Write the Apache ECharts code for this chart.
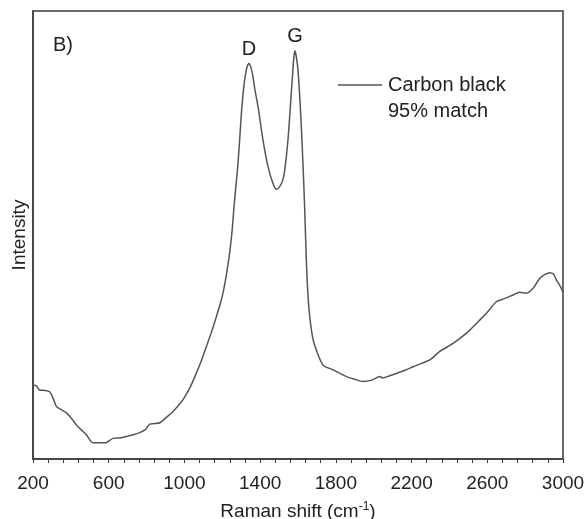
<!DOCTYPE html>
<html>
<head>
<meta charset="utf-8">
<script src="https://cdn.jsdelivr.net/npm/echarts@6/dist/echarts.min.js"></script>
<style>
  html, body { margin: 0; padding: 0; background: #fff; }
  #chart { width: 587px; height: 519px; }
</style>
</head>
<body>
<div id="chart"></div>
<script>
// Raman shift (cm-1) and relative intensity
const shift = [200, 218, 235, 262, 288, 306, 324, 350, 376, 405, 429, 455, 482, 517, 550, 588, 623, 660, 693, 730,
  764, 795, 817, 840, 870, 905, 940, 965, 992, 1030, 1063, 1090, 1116, 1145, 1169, 1188, 1204, 1222, 1239, 1252,
  1262, 1273, 1283, 1293, 1301, 1310, 1318, 1330, 1341, 1352, 1362, 1371, 1389, 1415, 1442, 1468, 1486, 1503,
  1520, 1530, 1547, 1561, 1570, 1578, 1584, 1591, 1600, 1614, 1626, 1635, 1644, 1652, 1662, 1678, 1697, 1732,
  1785, 1856, 1900, 1943, 1990, 2032, 2049, 2085, 2120, 2165, 2208, 2250, 2296, 2349, 2419, 2490, 2560, 2605,
  2648, 2690, 2736, 2770, 2806, 2842, 2877, 2905, 2930, 2950, 2965, 2985, 3000]
const intensity = [16.5, 16.3, 15.4, 15.3, 15.0, 13.6, 11.7, 11.0, 10.3, 9.0, 7.6, 6.5, 5.4, 3.6, 3.6, 3.7, 4.6, 4.7, 5.0, 5.4,
  5.9, 6.6, 7.8, 7.9, 8.1, 9.3, 10.6, 11.8, 13.2, 16.0, 19.2, 22.0, 25.1, 28.6, 31.8, 34.5, 37.1, 41.2, 46.0, 51.0,
  56.3, 61.4, 66.0, 72.0, 77.2, 81.5, 84.6, 87.4, 88.3, 87.3, 85.4, 82.8, 78.6, 71.2, 65.2, 61.5, 60.2, 60.8,
  62.3, 64.5, 71.2, 79.5, 85.0, 89.6, 91.1, 89.8, 86.8, 77.2, 66.1, 56.3, 44.5, 37.0, 31.8, 27.0, 24.3, 21.0,
  19.9, 18.4, 17.8, 17.3, 17.6, 18.4, 18.1, 18.6, 19.1, 19.8, 20.6, 21.3, 22.1, 24.0, 25.8, 28.1, 31.0, 33.0,
  35.1, 35.8, 36.6, 37.2, 37.0, 38.1, 40.3, 41.2, 41.6, 41.3, 40.0, 38.6, 37.3]
const bandLabels = ['D', 'G']
const bandPeaks = [[1341, 88.3], [1584, 91.1]]
const xTicks = [200, 600, 1000, 1400, 1800, 2200, 2600, 3000]

const axisColor = '#3c3c3c'
const lineColor = '#555'
const textColor = '#222'
const font = 'Liberation Sans, Arial, sans-serif'

const chart = echarts.init(document.getElementById('chart'))

chart.setOption({
  animation: false,
  grid: {
    left: 33, right: 24, top: 11, bottom: 60,
    outerBoundsMode: 'none',
    show: true, borderColor: axisColor, borderWidth: 1.5
  },
  xAxis: {
    type: 'value',
    min: xTicks[0], max: xTicks[xTicks.length - 1], interval: 400,
    name: '{n|Raman shift (cm}{s|-1}{n|)}',
    nameLocation: 'middle', nameGap: 42,
    nameTextStyle: {
      rich: {
        n: { fontFamily: font, fontSize: 19, color: textColor },
        s: { fontFamily: font, fontSize: 12, color: textColor, verticalAlign: 'top', padding: [0, 0, 9, 0] }
      }
    },
    axisLine: { show: true, lineStyle: { color: axisColor, width: 1.5 } },
    axisTick: { show: true, length: 4, lineStyle: { color: axisColor } },
    minorTick: { show: true, splitNumber: 5, length: 4, lineStyle: { color: axisColor } },
    axisLabel: {
      fontFamily: font, fontSize: 19, color: textColor, margin: 15,
      formatter: v => String(v)
    },
    splitLine: { show: false }
  },
  yAxis: {
    type: 'value', min: 0, max: 100,
    name: 'Intensity', nameLocation: 'middle', nameGap: 4,
    nameTextStyle: { fontFamily: font, fontSize: 19, color: textColor },
    axisLine: { show: true, lineStyle: { color: axisColor, width: 1.5 } },
    axisTick: { show: false },
    axisLabel: { show: false },
    splitLine: { show: false }
  },
  series: [{
    type: 'line',
    name: 'Carbon black',
    data: shift.map((x, i) => [x, intensity[i]]),
    showSymbol: false,
    smooth: 0.25,
    lineStyle: { color: lineColor, width: 1.5 },
    markPoint: {
      symbol: 'circle', symbolSize: 0,
      label: {
        show: true, position: 'top', distance: 4,
        fontFamily: font, fontSize: 20, color: textColor,
        formatter: p => p.name
      },
      data: bandLabels.map((n, i) => ({ name: n, coord: bandPeaks[i] }))
    }
  }],
  graphic: [
    {
      type: 'text', left: 53, top: 35,
      style: { text: 'B)', font: '20px ' + font, fill: textColor }
    },
    {
      type: 'line', shape: { x1: 338, y1: 85, x2: 382, y2: 85 },
      style: { stroke: lineColor, lineWidth: 1.5 }
    },
    {
      type: 'text', left: 388, top: 72,
      style: { text: 'Carbon black\n95% match', font: '20px ' + font, fill: textColor, lineHeight: 26 }
    }
  ]
})
</script>
</body>
</html>
